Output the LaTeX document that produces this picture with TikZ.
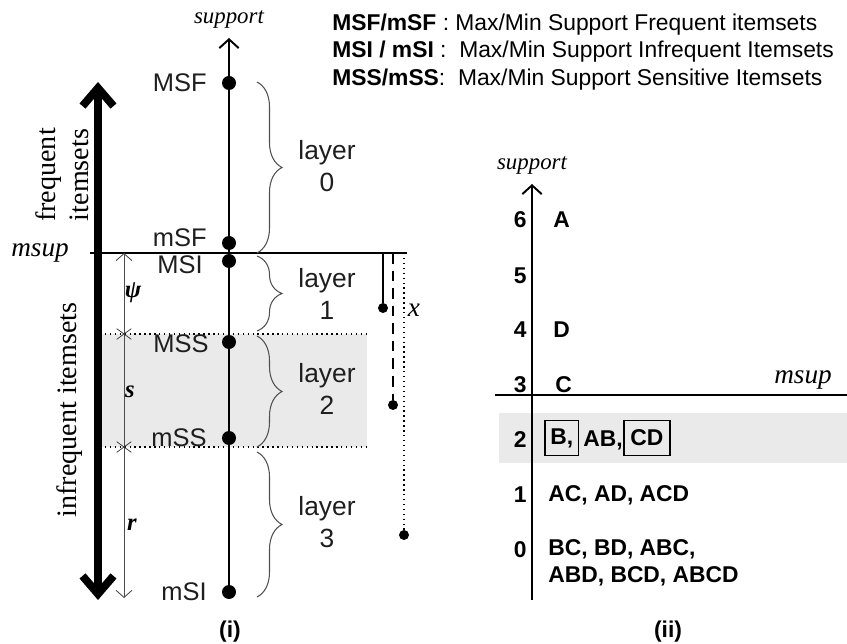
\documentclass[tikz,border=0pt]{standalone}
\usepackage{fontspec}
\setmainfont{Liberation Sans}
\newfontfamily\serif{Liberation Serif}
\usetikzlibrary{arrows.meta,decorations.pathreplacing,shapes.misc}

\definecolor{layerBg}{RGB}{234,234,234}
\definecolor{braceLine}{RGB}{80,80,80}
\definecolor{inkLine}{RGB}{30,30,30}

\tikzset{
  pt/.style={circle, fill=black, inner sep=0pt, minimum size=0.28cm},
  endpt/.style={circle, fill=black, inner sep=0pt, minimum size=0.2cm},
  lvl/.style={anchor=east, inner sep=0pt, text=inkLine, font=\fontsize{14.5}{16}\selectfont},
  layerlbl/.style={align=center, text=inkLine, font=\fontsize{15}{18}\selectfont},
  ital/.style={font=\serif\itshape\fontsize{15.5}{17}\selectfont},
  axlbl/.style={font=\serif\itshape\fontsize{13}{15}\selectfont},
  dimlbl/.style={font=\serif\bfseries\itshape\fontsize{14}{16}\selectfont},
  lbrace/.style={decorate, decoration={brace, amplitude=0.5cm}, draw=braceLine, line width=0.6pt},
  item/.style={anchor=west, inner sep=0pt, font=\bfseries\fontsize{13}{15.3}\selectfont},
  num/.style={anchor=east, inner sep=0pt, font=\bfseries\fontsize{13}{15}\selectfont},
  legend/.style={anchor=west, inner sep=0pt, font=\fontsize{13}{15}\selectfont},
}

\begin{document}
\begin{tikzpicture}[x=0.02cm, y=-0.02cm]
\useasboundingbox (0,0) rectangle (847,644);
%% ── Shaded sensitive band (i) ────────────────────────────────────────────
\fill[layerBg] (100,334) rectangle (367,447);
\draw[dotted, line width=0.8pt] (100,334) -- (367,334);
\draw[dotted, line width=0.8pt] (100,447) -- (367,447);
%% ── msup threshold (i) ───────────────────────────────────────────────────
\draw[line width=0.8pt] (90,253) -- (407,253);
\node[ital] (msupL) at (40,253) {msup};
%% ── Thick frequent / infrequent arrow ────────────────────────────────────
\coordinate (bigT) at (98,82);
\coordinate (bigB) at (98,600);
\draw[line width=4.5pt, {Straight Barb[length=0.36cm, width=0.62cm]}-{Straight Barb[length=0.36cm, width=0.62cm]}]
    (bigT) -- (bigB);
\node[rotate=90, align=center, font=\serif\fontsize{16}{19}\selectfont] (freq)
    at (62,175) {frequent\\itemsets};
\node[rotate=90, font=\serif\fontsize{16}{19}\selectfont] (infreq)
    at (70,410) {infrequent itemsets};
%% ── Thin psi / s / r arrow ───────────────────────────────────────────────
\coordinate (dimT) at (124,253);
\coordinate (dimB) at (124,598);
\draw[line width=0.5pt, draw=gray!60!black, {Straight Barb[length=4pt, width=9pt]}-{Straight Barb[length=4pt, width=9pt]}]
    (dimT) -- (dimB);
\node[cross out, draw=gray!40!black, inner sep=0pt, minimum width=0.28cm, minimum height=0.2cm] (crossA) at (124,334) {};
\node[cross out, draw=gray!40!black, inner sep=0pt, minimum width=0.28cm, minimum height=0.2cm] (crossB) at (124,447) {};
\node[dimlbl] (psi) at (133,293) {ψ};
\node[dimlbl] (sLen) at (130,392) {s};
\node[dimlbl] (rLen) at (132,525) {r};
%% ── Support axis (i) ─────────────────────────────────────────────────────
\node[pt] (MSF) at (229,83) {};
\node[pt] (mSF) at (229,243) {};
\node[pt] (MSI) at (229,261) {};
\node[pt] (MSS) at (229,342) {};
\node[pt] (mSS) at (229,438) {};
\node[pt] (mSI) at (229,592) {};
\coordinate (axT) at (229,38);
\draw[line width=1.1pt, -{Straight Barb[length=5pt, width=11pt]}] (mSI) -- (axT);
\node[axlbl] (supL) at (229,20) {support};
%% ── Point labels ─────────────────────────────────────────────────────────
\node[lvl] (tMSF) at (207,83) {MSF};
\node[lvl] (tmSF) at (207,238) {mSF};
\node[lvl] (tMSI) at (203,265) {MSI};
\node[lvl] (tMSS) at (209,344) {MSS};
\node[lvl] (tmSS) at (207,438) {mSS};
\node[lvl] (tmSI) at (207,592) {mSI};
%% ── Layer braces ─────────────────────────────────────────────────────────
\draw[lbrace] (257,82) -- (257,253);
\draw[lbrace] (257,256) -- (257,331);
\draw[lbrace] (257,336) -- (257,447);
\draw[lbrace] (257,452) -- (257,597);
\node[layerlbl] (lay0) at (327,166) {layer\\0};
\node[layerlbl] (lay1) at (327,294) {layer\\1};
\node[layerlbl] (lay2) at (327,389) {layer\\2};
\node[layerlbl] (lay3) at (327,522) {layer\\3};
%% ── Drops below msup ─────────────────────────────────────────────────────
\coordinate (dropA) at (383,253);
\coordinate (dropB) at (393,253);
\coordinate (dropC) at (404,253);
\node[endpt] (endA) at (383,308) {};
\node[endpt] (endB) at (393,405) {};
\node[endpt] (endC) at (404,535) {};
\draw[line width=0.8pt] (dropA) -- (endA);
\draw[line width=0.8pt, dash pattern=on 6pt off 4pt] (dropB) -- (endB);
\draw[line width=0.8pt, dotted] (dropC) -- (endC);
\node[ital] (xLen) at (414,310) {x};
%% ── Legend ───────────────────────────────────────────────────────────────
\node[legend] (leg1) at (332,25) {\textbf{MSF/mSF} : Max/Min Support Frequent itemsets};
\node[legend] (leg2) at (332,52) {\textbf{MSI / mSI} :\ \ Max/Min Support Infrequent Itemsets};
\node[legend] (leg3) at (332,80) {\textbf{MSS/mSS}:\ \ Max/Min Support Sensitive Itemsets};
%% ── Support axis (ii) ────────────────────────────────────────────────────
\fill[layerBg] (499,413) rectangle (847,463);
\draw[line width=0.8pt] (495,395) -- (847,395);
\node[ital] (msupR) at (803,380) {msup};
\coordinate (raxT) at (532,184);
\coordinate (raxB) at (532,600);
\draw[line width=1.1pt, -{Straight Barb[length=5pt, width=11pt]}] (raxB) -- (raxT);
\node[axlbl] (supR) at (532,166) {support};
%% ── Support counts ───────────────────────────────────────────────────────
\node[num] (n6) at (527,220) {6};
\node[num] (n5) at (527,276) {5};
\node[num] (n4) at (527,330) {4};
\node[num] (n3) at (527,385) {3};
\node[num] (n2) at (527,440) {2};
\node[num] (n1) at (527,495) {1};
\node[num] (n0) at (527,550) {0};
%% ── Itemsets per count ───────────────────────────────────────────────────
\node[item] (iA) at (553,220) {A};
\node[item] (iD) at (553,330) {D};
\node[item] (iC) at (555,385) {C};
\node[item, draw, line width=0.9pt, inner xsep=0.11cm, minimum height=0.7cm] (iB) at (544,438) {B,};
\node[item] (iAB) at (583,440) {AB,};
\node[item, draw, line width=0.9pt, inner xsep=0.13cm, minimum height=0.7cm] (iCD) at (623,438) {CD};
\node[item] (iOne) at (548,495) {AC, AD, ACD};
\node[item, align=left] (iZero) at (548,563) {BC, BD, ABC,\\ABD, BCD, ABCD};
%% ── Captions ─────────────────────────────────────────────────────────────
\node[font=\bfseries\fontsize{13}{15}\selectfont] (capI) at (230,632) {(i)};
\node[font=\bfseries\fontsize{13}{15}\selectfont] (capII) at (668,632) {(ii)};
\end{tikzpicture}
\end{document}
